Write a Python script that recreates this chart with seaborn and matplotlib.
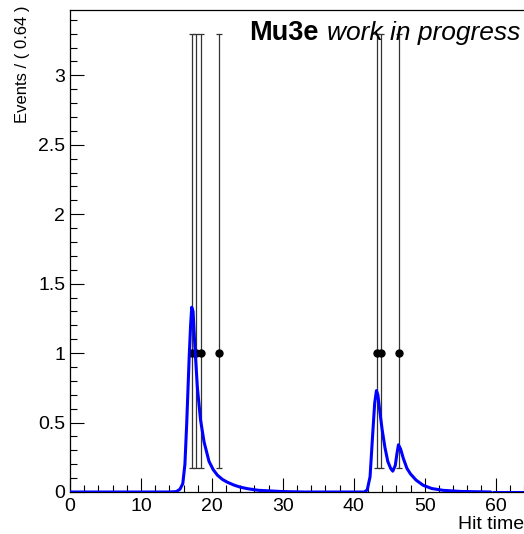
import numpy as np
import pandas as pd
import seaborn as sns
import matplotlib.pyplot as plt
from matplotlib.ticker import MultipleLocator

# data points (binned events, bin width 0.64)
hit_x = [17.2, 17.8, 18.4, 21.0, 43.3, 43.9, 46.4]
hit_y = [1, 1, 1, 1, 1, 1, 1]
err_lo = [0.827, 0.827, 0.827, 0.827, 0.827, 0.827, 0.827]
err_hi = [2.30, 2.30, 2.30, 2.30, 2.30, 2.30, 2.30]

# fitted pdf, drawn in three ranges
pdf_x1 = [0, 14, 15.0, 15.5, 15.9, 16.2, 16.45, 16.8, 17.0, 17.16, 17.35, 17.6, 17.96,
          18.4, 18.9, 19.6, 20.2, 20.8, 21.5, 22.2, 23.1, 24.0, 25.0, 26.6, 30.0, 33.0]
pdf_y1 = [0, 0, 0.003, 0.02, 0.06, 0.2, 0.49, 0.97, 1.2, 1.33, 1.3, 1.05, 0.75,
          0.52, 0.36, 0.22, 0.16, 0.12, 0.09, 0.07, 0.05, 0.035, 0.024, 0.012, 0.003, 0.0]
pdf_x2 = [33.2, 41.5, 41.9, 42.3, 42.65, 42.95, 43.2, 43.4, 43.7, 44.0, 44.4, 44.8, 45.2,
          45.5, 45.85, 46.1, 46.3, 46.6, 47.0, 47.5, 48.0, 48.8, 49.8, 51.0, 52.6, 55.0, 59.3]
pdf_y2 = [0, 0, 0.015, 0.11, 0.40, 0.64, 0.73, 0.70, 0.57, 0.45, 0.32, 0.22, 0.17,
          0.15, 0.19, 0.28, 0.34, 0.31, 0.24, 0.17, 0.13, 0.085, 0.048, 0.025, 0.012, 0.004, 0]
pdf_x3 = [59.6, 64]
pdf_y3 = [0, 0]

pdf = pd.DataFrame({
    'x': pdf_x1 + pdf_x2 + pdf_x3,
    'y': pdf_y1 + pdf_y2 + pdf_y3,
    'seg': [1] * len(pdf_x1) + [2] * len(pdf_x2) + [3] * len(pdf_x3),
})

sns.set_style('ticks')
plt.rcParams['font.family'] = ['Liberation Sans', 'DejaVu Sans']

fig = plt.figure(figsize=(5.24, 5.34), dpi=100)
ax = fig.add_axes([70 / 524, 1 - 492 / 534, 454 / 524, 482 / 534])

ax.errorbar(hit_x, hit_y, yerr=[err_lo, err_hi], fmt='o', color='black', ms=5,
            ecolor='#333333', elinewidth=0.9, capsize=2.5, capthick=0.9, zorder=2)
sns.lineplot(data=pdf, x='x', y='y', units='seg', estimator=None, sort=False,
             color='#0000ff', lw=2.2, ax=ax, zorder=3)

ax.set_xlim(0, 64)
ax.set_ylim(0, 3.47)
ax.xaxis.set_major_locator(MultipleLocator(10))
ax.xaxis.set_minor_locator(MultipleLocator(2))
ax.yaxis.set_major_locator(MultipleLocator(0.5))
ax.yaxis.set_minor_locator(MultipleLocator(0.1))
ax.set_yticks([0, 0.5, 1, 1.5, 2, 2.5, 3])
ax.set_yticklabels(['0', '0.5', '1', '1.5', '2', '2.5', '3'])
ax.tick_params(which='both', direction='in', labelsize=14, width=0.8,
               color='black', labelcolor='black')
ax.tick_params(which='major', length=10)
ax.tick_params(which='minor', length=5)
ax.tick_params(axis='x', pad=4)
ax.spines['right'].set_visible(False)
for s in ['left', 'bottom', 'top']:
    ax.spines[s].set_linewidth(0.9)
    ax.spines[s].set_color('black')

ax.set_xlabel('')
ax.set_ylabel('')
fig.text(1.0, 0.002, 'Hit time', ha='right', va='bottom', fontsize=14, color='black')
fig.text(0.042, 0.99, 'Events / ( 0.64 )', rotation=90, ha='center', va='top',
         fontsize=12, color='black')
fig.text(249 / 524, 1 - 40 / 534, 'Mu3e', fontweight='bold', fontsize=19.5,
         va='baseline', color='black')
fig.text(327 / 524, 1 - 40 / 534, 'work in progress', style='italic', fontsize=19,
         va='baseline', color='black')

fig.savefig('out.png', dpi=100)
